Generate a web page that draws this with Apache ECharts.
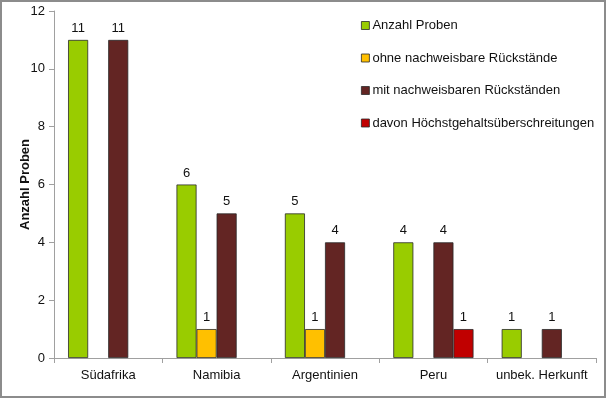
<!DOCTYPE html>
<html>
<head>
<meta charset="utf-8">
<script src="https://cdn.jsdelivr.net/npm/echarts@6/dist/echarts.min.js"></script>
<style>
  html, body { margin: 0; padding: 0; background: #fff; }
  #chart { width: 602px; height: 394px; border: 2px solid #8c8c8c; }
</style>
</head>
<body>
<div id="chart"></div>
<script>
// Data
const categories = ['Südafrika', 'Namibia', 'Argentinien', 'Peru', 'unbek. Herkunft']
const anzahlProben = [11, 6, 5, 4, 1]
const ohneRueckstaende = [null, 1, 1, null, null]
const mitRueckstaenden = [11, 5, 4, 4, 1]
const hoechstgehalt = [null, null, null, 1, null]

const FONT = 'Liberation Sans, Arial, sans-serif'

const chart = echarts.init(document.getElementById('chart'))

const bar = (name, data, color) => ({
  name,
  type: 'bar',
  data,
  barGap: '0%',
  barCategoryGap: '26%',
  itemStyle: { color, borderColor: '#2a2a2a', borderWidth: 0.8 },
  label: {
    show: true,
    position: 'top',
    distance: 5,
    color: '#111',
    fontFamily: FONT,
    fontSize: 13,
  },
})

chart.setOption({
  animation: false,
  textStyle: { fontFamily: FONT },
  grid: { left: 52, right: 8, top: 9, bottom: 38 },
  legend: {
    orient: 'vertical',
    left: 354,
    top: 12,
    itemGap: 19.5,
    itemWidth: 8,
    itemHeight: 8,
    icon: 'rect',
    textStyle: { fontFamily: FONT, fontSize: 13, color: '#111', padding: [0, 0, 0, -2] },
    itemStyle: { borderColor: '#2a2a2a', borderWidth: 0.8 },
  },
  xAxis: {
    type: 'category',
    data: categories,
    axisLine: { lineStyle: { color: '#a0a0a0' } },
    axisTick: { show: true, interval: 0, length: 5, lineStyle: { color: '#a0a0a0' } },
    axisLabel: { interval: 0, color: '#111', fontSize: 13, margin: 11 },
  },
  yAxis: {
    type: 'value',
    min: 0,
    max: 12,
    interval: 2,
    name: 'Anzahl Proben',
    nameLocation: 'middle',
    nameGap: 22,
    nameMoveOverlap: false,
    nameTextStyle: { fontWeight: 'bold', fontSize: 13, color: '#111' },
    axisLine: { show: true, lineStyle: { color: '#a0a0a0' } },
    axisTick: { show: true, length: 5, lineStyle: { color: '#a0a0a0' } },
    axisLabel: { color: '#111', fontSize: 13, margin: 9 },
    splitLine: { show: false },
  },
  series: [
    bar('Anzahl Proben', anzahlProben, '#99cc00'),
    bar('ohne nachweisbare Rückstände', ohneRueckstaende, '#ffc000'),
    bar('mit nachweisbaren Rückständen', mitRueckstaenden, '#632523'),
    bar('davon Höchstgehaltsüberschreitungen', hoechstgehalt, '#c00000'),
  ],
})
</script>
</body>
</html>
